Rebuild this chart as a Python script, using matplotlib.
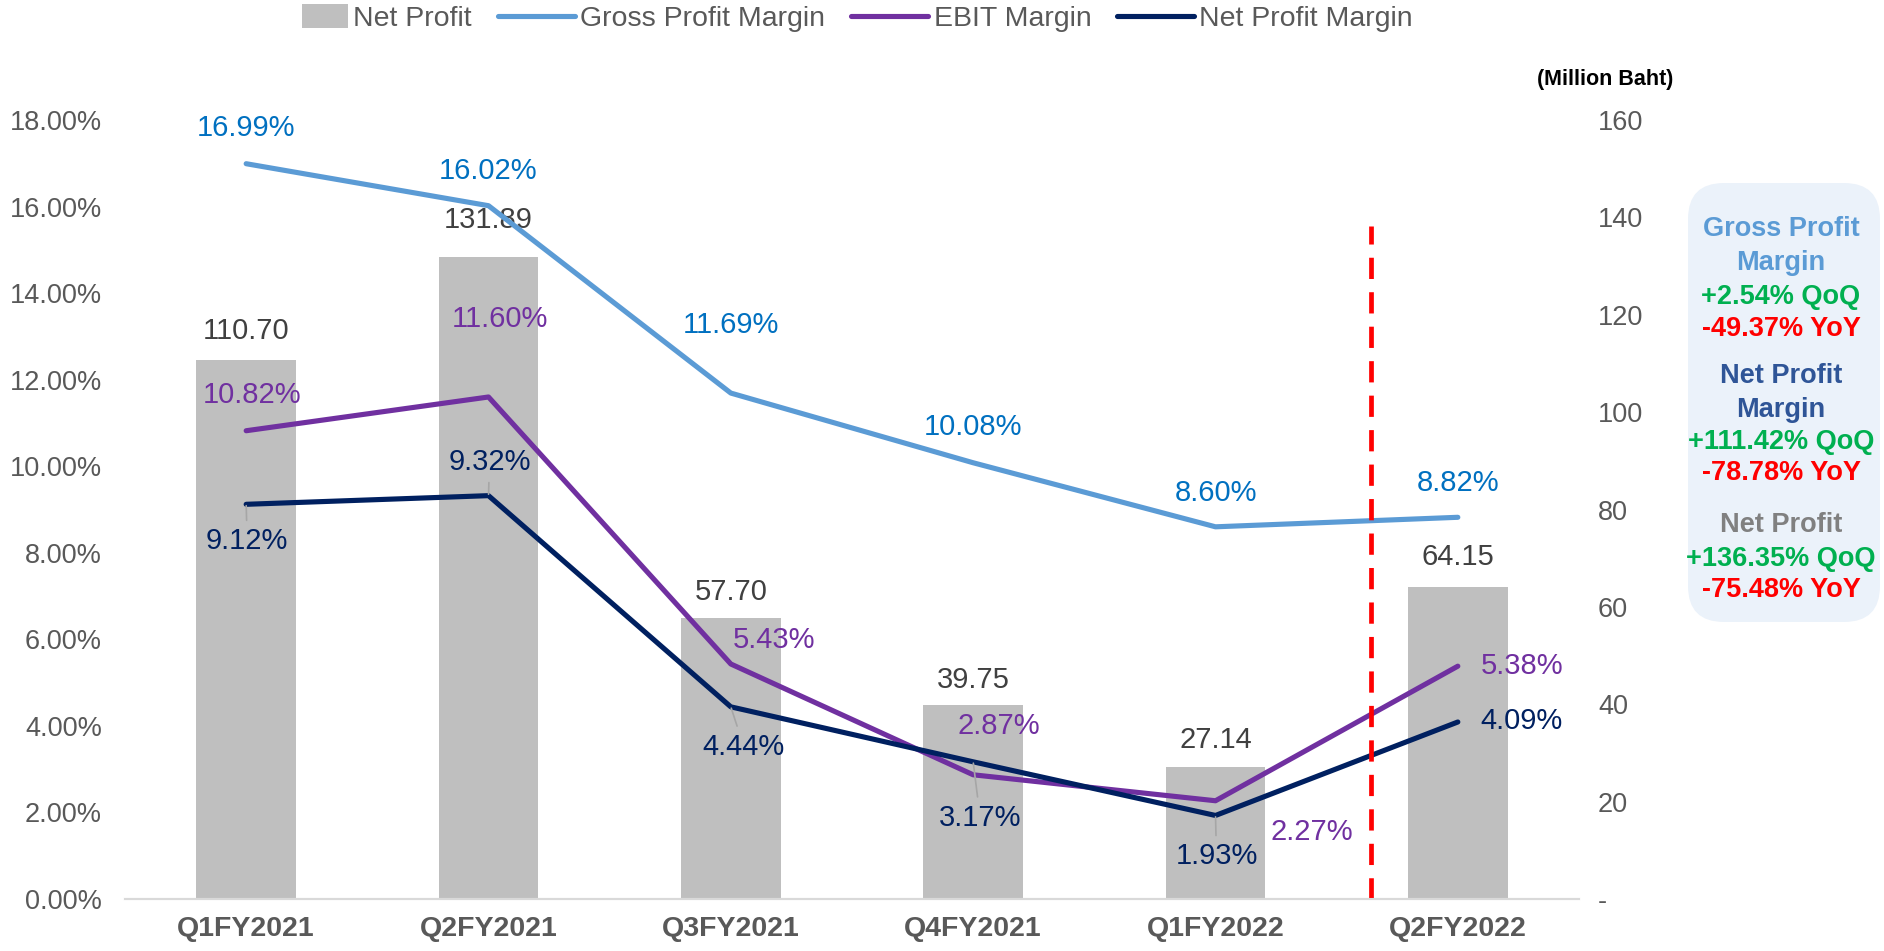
import matplotlib
matplotlib.use("Agg")
from matplotlib import pyplot as plt
from matplotlib.patches import FancyBboxPatch, Rectangle
from matplotlib.legend_handler import HandlerPatch
from matplotlib.transforms import IdentityTransform
import numpy as np

plt.rcParams['font.family'] = ['Liberation Sans', 'DejaVu Sans']

# data
quarters = ['Q1FY2021', 'Q2FY2021', 'Q3FY2021', 'Q4FY2021', 'Q1FY2022', 'Q2FY2022']
net_profit = [110.70, 131.89, 57.70, 39.75, 27.14, 64.15]            # Million Baht
gross_margin = [16.99, 16.02, 11.69, 10.08, 8.60, 8.82]              # %
ebit_margin = [10.82, 11.60, 5.43, 2.87, 2.27, 5.38]                 # %
net_margin = [9.12, 9.32, 4.44, 3.17, 1.93, 4.09]                    # %
divider_x = 4.64

box_lines = [
    ('Gross Profit', '#5B9BD5'), ('Margin', '#5B9BD5'),
    ('+2.54% QoQ', '#00B050'), ('-49.37% YoY', '#FF0000'),
    ('Net Profit', '#2F5597'), ('Margin', '#2F5597'),
    ('+111.42% QoQ', '#00B050'), ('-78.78% YoY', '#FF0000'),
    ('Net Profit', '#808080'),
    ('+136.35% QoQ', '#00B050'), ('-75.48% YoY', '#FF0000'),
]
box_y = [229, 263, 297, 329, 376, 410, 442, 473, 525, 559, 590]     # px from top

# label offsets (pixels)
off_gross = [(0, 36), (0, 35), (0, 68), (0, 36), (0, 34), (0, 34)]
off_ebit = [(6, 36), (11, 78), (43, 24), (26, 49), (96, -31), (64, 0)]
off_net = [(1, -37), (1, 34), (13, -40), (7, -56), (1, -41), (64, 1)]
off_bar = [29, 37, 26, 25, 27, 30]

W, H = 1884, 951
fig = plt.figure(figsize=(W / 100, H / 100), dpi=100)
ax = fig.add_axes([125 / W, 1 - 899 / H, 1454 / W, 779 / H])
ax2 = ax.twinx()
ax.set_zorder(ax2.get_zorder() + 1)
ax.patch.set_visible(False)

x = np.arange(len(quarters))
bars = ax2.bar(x, net_profit, width=0.41, color='#BFBFBF', label='Net Profit')
ax2.set_ylim(0, 160)
ax2.set_yticks(np.arange(0, 161, 20))
ax2.set_yticklabels(['-'] + [str(v) for v in range(20, 161, 20)])
for i, v in enumerate(net_profit):
    ax2.annotate('%.2f' % v, (x[i], v), xytext=(0, off_bar[i]), textcoords='offset pixels',
                 ha='center', va='center', fontsize=21, color='#404040')

lg, = ax.plot(x, gross_margin, color='#5B9BD5', lw=3.7, solid_capstyle='round', label='Gross Profit Margin')
le, = ax.plot(x, ebit_margin, color='#7030A0', lw=3.7, solid_capstyle='round', label='EBIT Margin')
ln, = ax.plot(x, net_margin, color='#002060', lw=3.7, solid_capstyle='round', label='Net Profit Margin')

for vals, offs, col, lead in [(gross_margin, off_gross, '#0070C0', False),
                              (ebit_margin, off_ebit, '#7030A0', False),
                              (net_margin, off_net, '#002060', True)]:
    for i, v in enumerate(vals):
        ap = None
        if lead and i < 5:
            ap = dict(arrowstyle='-', color='#A6A6A6', lw=1.2, shrinkA=3, shrinkB=1)
        ax.annotate('%.2f%%' % v, (x[i], v), xytext=offs[i], textcoords='offset pixels',
                    ha='center', va='center', fontsize=21, color=col, arrowprops=ap)

ax.plot([divider_x, divider_x], [0, 15.55], color='#FF0000', lw=3.4, dashes=(4.5, 2.8))

ax.set_xlim(-0.5, 5.5)
ax.set_ylim(0, 18)
ax.set_yticks(np.arange(0, 18.1, 2))
ax.set_yticklabels(['%.2f%%' % v for v in np.arange(0, 18.1, 2)])
ax.set_xticks(x)
ax.set_xticklabels(quarters, fontweight='bold')

ax.tick_params(axis='y', length=0, pad=16.5, labelsize=19.5, labelcolor='#595959')
ax.tick_params(axis='x', length=0, pad=12, labelsize=20.5, labelcolor='#595959')
ax2.tick_params(axis='y', length=0, pad=13.7, labelsize=19.5, labelcolor='#595959')
for a in (ax, ax2):
    for s in ['top', 'left', 'right']:
        a.spines[s].set_visible(False)
    a.spines['bottom'].set_color('#D9D9D9')
    a.spines['bottom'].set_linewidth(1.5)

fig.text(1605 / W, 1 - 79 / H, '(Million Baht)', ha='center', va='center',
         fontsize=15.5, fontweight='bold', color='black')


def small_patch(legend, orig_handle, xdescent, ydescent, width, height, fontsize):
    return Rectangle((width * 0.4 - xdescent, -ydescent - height * 0.1), width * 0.6, height * 1.2)


bar_handle = bars.patches[0]
fig.legend([bar_handle, lg, le, ln], ['Net Profit', 'Gross Profit Margin', 'EBIT Margin', 'Net Profit Margin'],
           loc='center', bbox_to_anchor=(842 / W, 1 - 19 / H), ncol=4, frameon=False,
           fontsize=20.5, handlelength=2.7, handletextpad=0.2, columnspacing=0.9,
           labelcolor='#595959', handler_map={bar_handle: HandlerPatch(patch_func=small_patch)})

box = FancyBboxPatch((1688, H - 622), 192, 439, boxstyle='round,pad=0,rounding_size=36',
                     transform=IdentityTransform(), facecolor='#EBF2FA', edgecolor='none')
fig.patches.append(box)
for (txt, col), yy in zip(box_lines, box_y):
    fig.text(1781 / W, 1 - yy / H, txt, ha='center', va='center', fontsize=19.5,
             fontweight='bold', color=col)

fig.savefig('out.png', dpi=100)
